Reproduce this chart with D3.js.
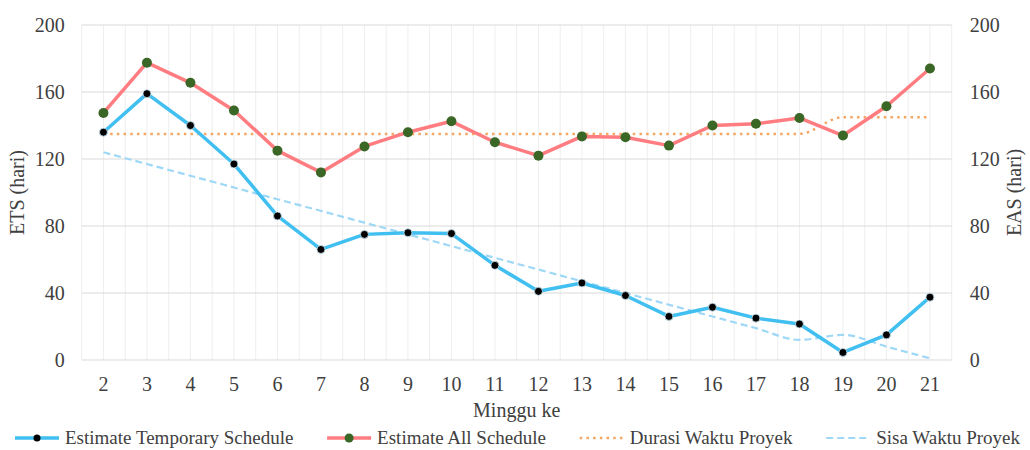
<!DOCTYPE html>
<html>
<head>
<meta charset="utf-8">
<script src="https://cdn.jsdelivr.net/npm/d3@7"></script>
<style>
  html, body { margin: 0; padding: 0; background: #fff; }
  svg text { font-family: "Liberation Serif", "Times New Roman", "DejaVu Serif", serif; fill: #404040; }
</style>
</head>
<body>
<svg id="chart" width="1030" height="450"></svg>
<script>
// Week numbers along the x axis
const weeks = [2, 3, 4, 5, 6, 7, 8, 9, 10, 11, 12, 13, 14, 15, 16, 17, 18, 19, 20, 21];

// Estimate Temporary Schedule (ETS, days)
const ets = [136, 159, 140, 117, 86, 66, 75, 76, 75.5, 56.5, 41, 46, 38.5, 26, 31.5, 25, 21.5, 4.5, 15, 37.5];

// Estimate All Schedule (EAS, days)
const eas = [147.5, 177.5, 165.5, 149, 125, 112, 127.5, 136, 142.5, 130, 122, 133.5, 133, 128, 140, 141, 144.5, 134, 151.5, 174];

// Project duration (days)
const durasi = [135, 135, 135, 135, 135, 135, 135, 135, 135, 135, 135, 135, 135, 135, 135, 135, 135, 145, 145, 145];

// Remaining project time (days)
const sisa = [124, 117, 110, 103, 96, 89, 82, 75, 68, 61, 54, 47, 40, 33, 26, 19, 12, 15, 8, 1];

// Axis ticks
const yTicks = [0, 40, 80, 120, 160, 200];

const labels = {
  ets: "Estimate Temporary Schedule",
  eas: "Estimate All Schedule",
  durasi: "Durasi Waktu Proyek",
  sisa: "Sisa Waktu Proyek",
  xTitle: "Minggu ke",
  yLeft: "ETS (hari)",
  yRight: "EAS (hari)"
};

const colors = {
  ets: "#41BFF0",
  etsMarker: "#000000",
  eas: "#FF7C80",
  easMarker: "#3A6626",
  durasi: "#F4A662",
  sisa: "#9FD8F6",
  gridMajor: "#d9d9d9",
  gridMinor: "#eeeeee"
};

const svg = d3.select("#chart");
const plotLeft = 81.7, plotRight = 951.7, plotTop = 25, plotBottom = 360;

const x = d3.scaleBand().domain(weeks).range([plotLeft, plotRight]).padding(0);
const y = d3.scaleLinear().domain([0, 200]).range([plotBottom, plotTop]);
const y2 = d3.scaleLinear().domain([0, 200]).range([plotBottom, plotTop]);
const cx = w => x(w) + x.bandwidth() / 2;

const fontSize = 20;
const legendFont = 19;

// Vertical grid: lines at band edges and band centers
const grid = svg.append("g");
const vLines = [];
weeks.forEach(w => { vLines.push(x(w)); vLines.push(cx(w)); });
vLines.push(plotRight);
grid.selectAll("line.v").data(vLines).join("line")
  .attr("x1", d => d).attr("x2", d => d)
  .attr("y1", plotTop).attr("y2", plotBottom)
  .attr("stroke", colors.gridMinor).attr("stroke-width", 1);

// Horizontal grid
grid.selectAll("line.h").data(yTicks).join("line")
  .attr("x1", plotLeft).attr("x2", plotRight)
  .attr("y1", d => y(d)).attr("y2", d => y(d))
  .attr("stroke", colors.gridMajor).attr("stroke-width", 1.2);

function styleAxis(g) {
  g.attr("font-family", null).attr("font-size", null);
  g.select(".domain").remove();
  g.selectAll("text").style("font-size", fontSize + "px").attr("fill", "#404040");
}

// Left axis
svg.append("g")
  .attr("transform", `translate(${plotLeft},0)`)
  .call(d3.axisLeft(y).tickValues(yTicks).tickSize(0).tickPadding(17))
  .call(styleAxis);

// Right axis
svg.append("g")
  .attr("transform", `translate(${plotRight},0)`)
  .call(d3.axisRight(y2).tickValues(yTicks).tickSize(0).tickPadding(18))
  .call(styleAxis);

// Bottom axis
svg.append("g")
  .attr("transform", `translate(0,${plotBottom})`)
  .call(d3.axisBottom(x).tickSize(0).tickPadding(17))
  .call(styleAxis);

// Axis titles
svg.append("text")
  .attr("transform", `translate(24,${(plotTop + plotBottom) / 2}) rotate(-90)`)
  .attr("text-anchor", "middle")
  .style("font-size", fontSize + "px")
  .text(labels.yLeft);
svg.append("text")
  .attr("transform", `translate(1021,${(plotTop + plotBottom) / 2}) rotate(-90)`)
  .attr("text-anchor", "middle")
  .style("font-size", fontSize + "px")
  .text(labels.yRight);
svg.append("text")
  .attr("x", (plotLeft + plotRight) / 2).attr("y", 417)
  .attr("text-anchor", "middle")
  .style("font-size", fontSize + "px")
  .text(labels.xTitle);

// Series lines
const straight = d3.line().x((d, i) => cx(weeks[i])).y(d => y(d));
const smooth = d3.line().x((d, i) => cx(weeks[i])).y(d => y(d)).curve(d3.curveMonotoneX);
const smoothR = d3.line().x((d, i) => cx(weeks[i])).y(d => y2(d)).curve(d3.curveMonotoneX);
const straightR = d3.line().x((d, i) => cx(weeks[i])).y(d => y2(d));

svg.append("path").datum(durasi)
  .attr("d", smoothR).attr("fill", "none")
  .attr("stroke", colors.durasi).attr("stroke-width", 2.5)
  .attr("stroke-dasharray", "2.5 4.2");

svg.append("path").datum(sisa)
  .attr("d", smooth).attr("fill", "none")
  .attr("stroke", colors.sisa).attr("stroke-width", 2.2)
  .attr("stroke-dasharray", "7 4");

svg.append("path").datum(eas)
  .attr("d", straightR).attr("fill", "none")
  .attr("stroke", colors.eas).attr("stroke-width", 3.5)
  .attr("stroke-linejoin", "round");

svg.append("path").datum(ets)
  .attr("d", straight).attr("fill", "none")
  .attr("stroke", colors.ets).attr("stroke-width", 3.5)
  .attr("stroke-linejoin", "round");

// Markers
svg.append("g").selectAll("circle").data(eas).join("circle")
  .attr("cx", (d, i) => cx(weeks[i])).attr("cy", d => y2(d))
  .attr("r", 5).attr("fill", colors.easMarker);

svg.append("g").selectAll("circle").data(ets).join("circle")
  .attr("cx", (d, i) => cx(weeks[i])).attr("cy", d => y(d))
  .attr("r", 4).attr("fill", colors.etsMarker)
  .attr("stroke", "#cfeefb").attr("stroke-width", 0.8);

// Legend: items laid out in one row, centred under the chart
const legendY = 438;
const swatchW = 44, swatchGap = 6;
const legendItems = [
  { key: "ets", kind: "marker", color: colors.ets, marker: colors.etsMarker, r: 3.5 },
  { key: "eas", kind: "marker", color: colors.eas, marker: colors.easMarker, r: 4.5 },
  { key: "durasi", kind: "dot", color: colors.durasi },
  { key: "sisa", kind: "dash", color: colors.sisa }
];
const lg = svg.append("g");
const groups = legendItems.map(it => {
  const g = lg.append("g");
  const line = g.append("line")
    .attr("x1", 0).attr("x2", swatchW)
    .attr("y1", legendY).attr("y2", legendY)
    .attr("stroke", it.color);
  if (it.kind === "marker") {
    line.attr("stroke-width", 3.5);
    g.append("circle").attr("cx", swatchW / 2).attr("cy", legendY)
      .attr("r", it.r).attr("fill", it.marker);
  } else if (it.kind === "dot") {
    line.attr("stroke-width", 2.5).attr("stroke-dasharray", "2.5 4.2");
  } else {
    line.attr("stroke-width", 2.2).attr("stroke-dasharray", "7 4");
  }
  const t = g.append("text").attr("x", swatchW + swatchGap).attr("y", legendY + 6)
    .style("font-size", legendFont + "px")
    .text(labels[it.key]);
  return { g, w: swatchW + swatchGap + t.node().getComputedTextLength() };
});
const spanL = 15, spanR = 1020;
const totalW = d3.sum(groups, d => d.w);
const gap = Math.max(8, (spanR - spanL - totalW) / (groups.length - 1));
const startX = Math.max(2, (spanL + spanR) / 2 - (totalW + gap * (groups.length - 1)) / 2);
let pos = startX;
groups.forEach(d => { d.g.attr("transform", `translate(${pos},0)`); pos += d.w + gap; });
</script>
</body>
</html>
